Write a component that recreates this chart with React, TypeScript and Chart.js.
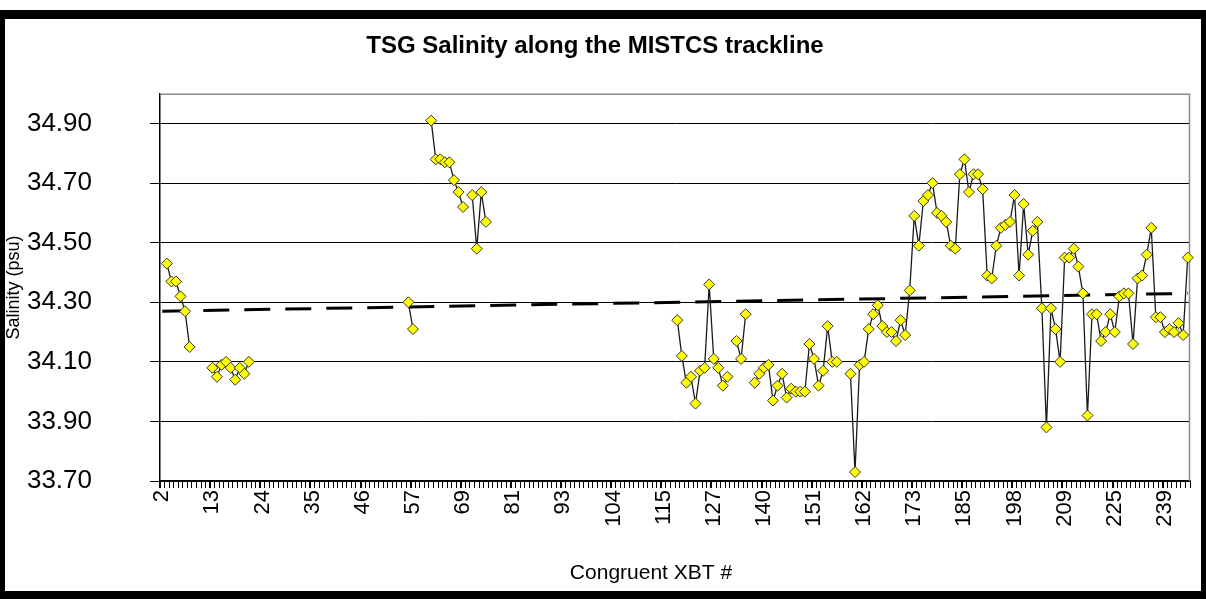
import React, { useEffect, useRef } from 'react';
import { Chart, registerables } from 'chart.js';

Chart.register(...registerables);

// ---------- data ----------
const CATEGORY_COUNT = 226;
const LABEL_EVERY = 11;
const xTickLabels = ['2', '13', '24', '35', '46', '57', '69', '81', '93', '104', '115', '127', '140', '151', '162', '173', '185', '198', '209', '225', '239'];
const yTickValues = [33.7, 33.9, 34.1, 34.3, 34.5, 34.7, 34.9];
const yMin = 33.7;
const yMax = 35.0;
const xAxisTitle = 'Congruent XBT #';

// salinity segments: [first category index, values]
const segA = [34.43, 34.37, 34.37, 34.32, 34.27, 34.15];
const segB = [34.08, 34.05, 34.09, 34.10, 34.08, 34.04, 34.08, 34.06, 34.10];
const segC = [34.30, 34.21];
const segD = [34.91, 34.78, 34.78, 34.77, 34.77, 34.71, 34.67, 34.62];
const segE = [34.66, 34.48, 34.67, 34.57];
const segF = [34.24, 34.12, 34.03, 34.05, 33.96, 34.07, 34.08, 34.36, 34.11, 34.08, 34.02, 34.05];
const segG = [34.17, 34.11, 34.26];
const segH = [34.03, 34.06, 34.08, 34.09, 33.97, 34.02, 34.06, 33.98, 34.01, 34.00, 34.00, 34.00, 34.16, 34.11, 34.02, 34.07, 34.22, 34.10, 34.10];
const segI = [
  34.06, 33.73, 34.09, 34.10, 34.21, 34.26, 34.29, 34.22, 34.20, 34.20,
  34.17, 34.24, 34.19, 34.34, 34.59, 34.49, 34.64, 34.66, 34.70, 34.60,
  34.59, 34.57, 34.49, 34.48, 34.73, 34.78, 34.67, 34.73, 34.73, 34.68,
  34.39, 34.38, 34.49, 34.55, 34.56, 34.57, 34.66, 34.39, 34.63, 34.46,
  34.54, 34.57, 34.28, 33.88, 34.28, 34.21, 34.10, 34.45, 34.45, 34.48,
  34.42, 34.33, 33.92, 34.26, 34.26, 34.17, 34.20, 34.26, 34.20, 34.32,
  34.33, 34.33, 34.16, 34.38, 34.39, 34.46, 34.55, 34.25, 34.25, 34.20,
  34.21, 34.20, 34.23, 34.19, 34.45,
];
const segments: [number, number[]][] = [
  [1, segA], [11, segB], [54, segC], [59, segD], [68, segE],
  [113, segF], [126, segG], [130, segH], [151, segI],
];

// linear trend line end values
const trendStart = 34.27;
const trendEnd = 34.33;

// ---------- built tables ----------
const categories: string[] = Array.from({ length: CATEGORY_COUNT }, (_, i) =>
  i % LABEL_EVERY === 0 && xTickLabels[i / LABEL_EVERY] !== undefined ? xTickLabels[i / LABEL_EVERY] : ''
);
const salinity: (number | null)[] = Array(CATEGORY_COUNT).fill(null);
segments.forEach(([start, vals]) => vals.forEach((v, k) => { salinity[start + k] = v; }));
const trend: (number | null)[] = Array(CATEGORY_COUNT).fill(null);
trend[0] = trendStart;
trend[CATEGORY_COUNT - 1] = trendEnd;

const FONT = "'Liberation Sans', Arial, sans-serif";

const framePlugin = {
  id: 'frame',
  beforeDraw(chart: any) {
    const { ctx, width, height } = chart;
    ctx.save();
    ctx.fillStyle = '#ffffff';
    ctx.fillRect(0, 0, width, height);
    ctx.fillStyle = '#000000';
    ctx.fillRect(0, 10, width, 9);
    ctx.fillRect(0, 10, 5, height - 10);
    ctx.fillRect(width - 5, 10, 5, height - 10);
    ctx.fillRect(0, height - 8, width, 8);
    ctx.restore();
  },
  beforeDatasetsDraw(chart: any) {
    const { ctx, chartArea: a } = chart;
    ctx.save();
    ctx.strokeStyle = '#8a8a8a';
    ctx.lineWidth = 1.5;
    ctx.beginPath();
    ctx.moveTo(a.left, a.top + 0.5);
    ctx.lineTo(a.right - 0.5, a.top + 0.5);
    ctx.lineTo(a.right - 0.5, a.bottom);
    ctx.stroke();
    ctx.restore();
  },
  afterDraw(chart: any) {
    // x-axis title, set slightly left of the plot centre as in the original
    const { ctx, chartArea: a, height } = chart;
    ctx.save();
    ctx.fillStyle = '#000';
    ctx.font = `21px ${FONT}`;
    ctx.textAlign = 'center';
    ctx.textBaseline = 'middle';
    ctx.fillText(xAxisTitle, (a.left + a.right) / 2 - 24, height - 26);
    ctx.restore();
  },
};

export default function App() {
  const ref = useRef<HTMLCanvasElement>(null);
  useEffect(() => {
    if (!ref.current) return;
    const chart = new Chart(ref.current, {
      type: 'line',
      data: {
        labels: categories,
        datasets: [
          {
            label: 'Salinity',
            data: salinity,
            borderColor: '#1a1a1a',
            borderWidth: 1.3,
            pointStyle: 'rectRot',
            pointRadius: 5.5,
            pointBackgroundColor: '#ffff00',
            pointBorderColor: '#333333',
            pointBorderWidth: 1,
            spanGaps: false,
            tension: 0,
            clip: false,
          } as any,
          {
            label: 'Trend',
            data: trend,
            borderColor: '#000000',
            borderWidth: 3,
            borderDash: [26, 15],
            pointRadius: 0,
            spanGaps: true,
          } as any,
        ],
      },
      options: {
        animation: false,
        responsive: false,
        layout: { padding: { top: 19, left: 0, right: 16, bottom: 8 } },
        plugins: {
          legend: { display: false },
          tooltip: { enabled: false },
          title: {
            display: true,
            text: 'TSG Salinity along the MISTCS trackline',
            color: '#000',
            font: { size: 24, weight: 'bold', family: FONT },
            padding: { top: 13, bottom: 33 },
          },
        },
        scales: {
          x: {
            type: 'category',
            offset: true,
            grid: {
              display: true,
              drawOnChartArea: false,
              drawTicks: true,
              tickLength: 7,
              color: '#000',
              offset: true,
              lineWidth: (c: any) => (c.index % LABEL_EVERY === 0 ? 2 : 1),
            },
            border: { display: true, color: '#000', width: 1.5 },
            ticks: {
              autoSkip: false,
              minRotation: 90,
              maxRotation: 90,
              padding: 2,
              color: '#000',
              font: { size: 22, family: FONT },
              callback: (_v: any, i: number) => categories[i],
            },
            title: { display: false },
            afterFit: (s: any) => { s.height = 110; s.paddingLeft = 0; s.paddingRight = 0; },
          },
          y: {
            min: yMin,
            max: yMax,
            afterBuildTicks: (s: any) => { s.ticks = yTickValues.map((v) => ({ value: v })); },
            grid: { color: '#000', lineWidth: 1, tickLength: 10 },
            border: { display: true, color: '#000', width: 1.5 },
            ticks: {
              padding: 58,
              color: '#000',
              font: { size: 26, family: FONT },
              callback: (v: any) => Number(v).toFixed(2),
            },
            title: {
              display: true,
              text: 'Salinity (psu)',
              color: '#000',
              font: { size: 18, family: FONT },
              padding: { top: 3, bottom: 0 },
            },
            afterFit: (s: any) => { s.width = 160; s.paddingTop = 0; s.paddingBottom = 0; },
          },
        },
      } as any,
      plugins: [framePlugin],
    });
    return () => chart.destroy();
  }, []);
  return (
    <div style={{ position: 'fixed', left: 0, top: 0, width: 1206, height: 599, background: '#fff' }}>
      <canvas ref={ref} width={1206} height={599} style={{ display: 'block' }} />
    </div>
  );
}
